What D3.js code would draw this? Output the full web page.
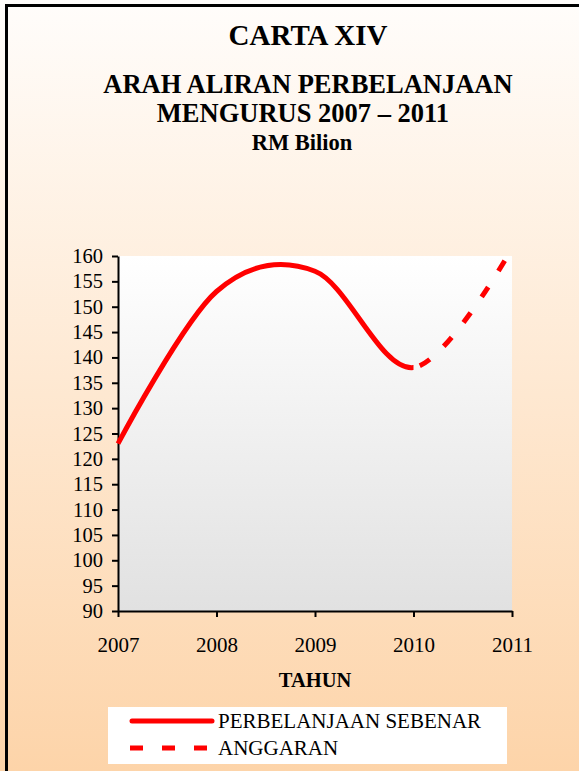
<!DOCTYPE html>
<html>
<head>
<meta charset="utf-8">
<script src="https://cdn.jsdelivr.net/npm/d3@7"></script>
<style>
 body { margin: 0; }
 svg { display: block; }
 svg text { font-family: "Liberation Serif", "Times New Roman", serif; }
 .axis path, .axis line { stroke: #000; stroke-width: 2; }
</style>
</head>
<body>
<svg width="579" height="771"></svg>
<script>

// Chart data.

var years = ['2007', '2008', '2009', '2010', '2011'];
var actual = [123, 153, 157, 138, null];      // PERBELANJAAN SEBENAR
var budget = [null, null, null, 138, 161.5];  // ANGGARAN
var yTicks = [90, 95, 100, 105, 110, 115, 120, 125, 130, 135, 140, 145, 150, 155, 160];
var titles = ['ARAH ALIRAN PERBELANJAAN', 'MENGURUS 2007 \u2013 2011'];

// One smooth path through both series; each style is shown on its own side of 2010.
var joined = actual.map(function(v, i) { return v != null ? v : budget[i]; });

var svg = d3.select('svg');
var W = 579, H = 771;
var margin = {top: 256, right: 67, bottom: 160, left: 118};
var width = W - margin.left - margin.right;
var height = H - margin.top - margin.bottom;

// Background gradients.

var defs = svg.append('defs');
var bg = defs.append('linearGradient').attr('id', 'bg').attr('x1', 0).attr('y1', 0).attr('x2', 0).attr('y2', 1);
bg.append('stop').attr('offset', '0%').attr('stop-color', '#fffdfb');
bg.append('stop').attr('offset', '100%').attr('stop-color', '#fdd4a9');
var pg = defs.append('linearGradient').attr('id', 'pg').attr('x1', 0).attr('y1', 0).attr('x2', 0).attr('y2', 1);
pg.append('stop').attr('offset', '0%').attr('stop-color', '#ffffff');
pg.append('stop').attr('offset', '100%').attr('stop-color', '#e1e1e1');

svg.append('rect').attr('width', W).attr('height', H).attr('fill', 'url(#bg)');
svg.append('path').attr('d', 'M6.5,' + H + 'V5.5H' + W).attr('fill', 'none').attr('stroke', '#000').attr('stroke-width', 3);

// Titles.

svg.append('text').attr('x', 308).attr('y', 45).attr('text-anchor', 'middle')
 .attr('font-size', 29).attr('font-weight', 'bold').text('CARTA XIV');
svg.selectAll('.title').data(titles).enter().append('text')
 .attr('class', 'title')
 .attr('x', function(d, i) { return i ? 303 : 308; })
 .attr('y', function(d, i) { return 93 + i * 29; })
 .attr('text-anchor', 'middle').attr('font-size', 26.5).attr('font-weight', 'bold')
 .text(function(d) { return d; });
svg.append('text').attr('x', 302).attr('y', 150).attr('text-anchor', 'middle')
 .attr('font-size', 22.5).attr('font-weight', 'bold').text('RM Bilion');

// Scales.

var x = d3.scalePoint().domain(years).range([0, width]);
var y = d3.scaleLinear().domain([90, 160]).range([height, 0]);

var g = svg.append('g').attr('transform', 'translate(' + margin.left + ',' + margin.top + ')');

g.append('rect').attr('width', width).attr('height', height).attr('fill', 'url(#pg)');

defs.append('clipPath').attr('id', 'before').append('rect')
 .attr('x', -10).attr('width', x('2010') + 10).attr('height', height);
defs.append('clipPath').attr('id', 'after').append('rect')
 .attr('x', x('2010')).attr('width', width - x('2010')).attr('height', height);

// Axes.

var yAxis = g.append('g').attr('class', 'axis')
 .call(d3.axisLeft(y).tickValues(yTicks).tickSize(6).tickPadding(9).tickSizeOuter(0));
yAxis.selectAll('text').attr('font-size', 20.5).attr('fill', '#000');

var xAxis = g.append('g').attr('class', 'axis').attr('transform', 'translate(0,' + height + ')')
 .call(d3.axisBottom(x).tickSize(6).tickPadding(20).tickSizeOuter(0));
xAxis.selectAll('text').attr('font-size', 21).attr('fill', '#000');

// Lines.

var line = d3.line()
 .x(function(d, i) { return x(years[i]); })
 .y(function(d) { return y(d); })
 .curve(d3.curveCardinal);

g.append('path').datum(joined)
 .attr('clip-path', 'url(#after)')
 .attr('d', line).attr('fill', 'none').attr('stroke', '#ff0000')
 .attr('stroke-width', 5).attr('stroke-dasharray', '12,19').attr('stroke-dashoffset', -2);

g.append('path').datum(joined)
 .attr('clip-path', 'url(#before)')
 .attr('d', line).attr('fill', 'none').attr('stroke', '#ff0000')
 .attr('stroke-width', 5);

// Axis title.

svg.append('text').attr('x', 315).attr('y', 687).attr('text-anchor', 'middle')
 .attr('font-size', 20.5).attr('font-weight', 'bold').text('TAHUN');

// Legend.

var legend = svg.append('g');
legend.append('rect').attr('x', 108).attr('y', 707).attr('width', 399).attr('height', 57).attr('fill', '#fff');
var items = [{name: 'PERBELANJAAN SEBENAR', dash: null}, {name: 'ANGGARAN', dash: '13,19'}];
var li = legend.selectAll('.item').data(items).enter().append('g')
 .attr('transform', function(d, i) { return 'translate(0,' + (721 + i * 27) + ')'; });
li.append('line').attr('x1', function(d) { return d.dash ? 130 : 132; }).attr('x2', 212)
 .attr('stroke', '#ff0000').attr('stroke-width', 5)
 .attr('stroke-linecap', function(d) { return d.dash ? 'butt' : 'round'; })
 .attr('stroke-dasharray', function(d) { return d.dash; });
li.append('text').attr('x', 218).attr('y', 7).attr('font-size', 21)
 .text(function(d) { return d.name; });

</script>
</body>
</html>
